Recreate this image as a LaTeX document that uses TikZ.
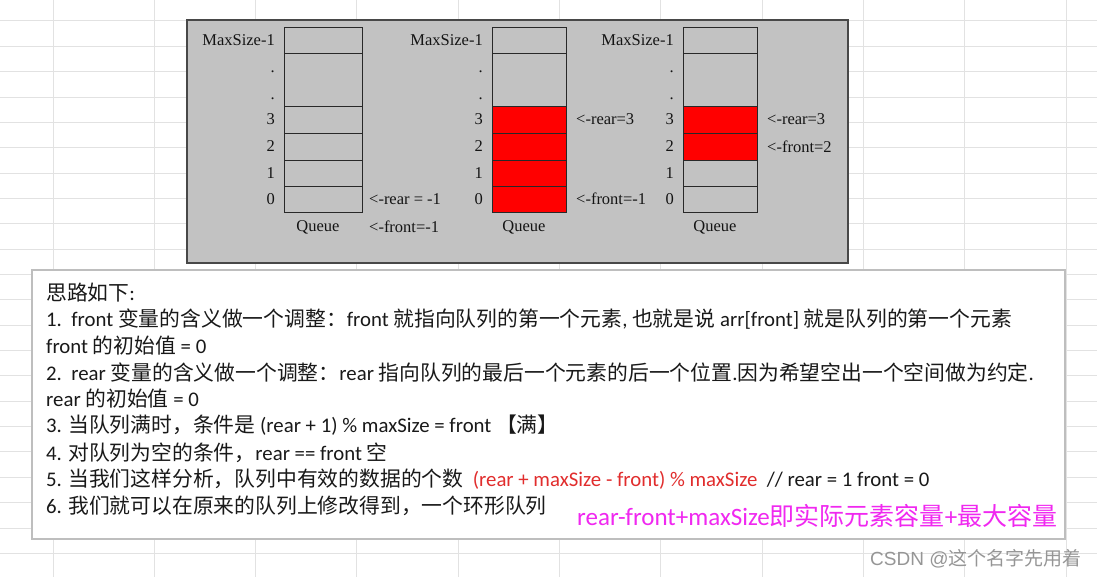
\documentclass[tikz,border=0pt]{standalone}
\usepackage{fontspec}
\usetikzlibrary{positioning}
\setmainfont{Liberation Serif}
\newfontfamily\latfont{Carlito}
\newfontfamily\cjkfont{Noto Sans CJK SC}
\newfontfamily\markfont{Liberation Sans}

% Chinese characters switch to the CJK font by themselves
\XeTeXinterchartokenstate=1
\chardef\cjkclass=21
\newcount\cjkcode
\def\setcjkrange#1#2{\cjkcode=#1\relax
  \loop\XeTeXcharclass\cjkcode=\cjkclass
  \ifnum\cjkcode<#2\advance\cjkcode by 1\repeat}
\setcjkrange{"3000}{"303F}
\setcjkrange{"4E00}{"9FFF}
\setcjkrange{"FF00}{"FFEF}
\XeTeXinterchartoks 0 \cjkclass={\cjkfont}
\XeTeXinterchartoks 4095 \cjkclass={\cjkfont}
\XeTeXinterchartoks \cjkclass 0={\latfont}
\XeTeXinterchartoks \cjkclass 4095={\latfont}

\definecolor{gridgray}{RGB}{226,226,226}
\definecolor{panelgray}{RGB}{194,194,194}
\definecolor{panelline}{RGB}{72,72,72}
\definecolor{cellline}{RGB}{40,40,40}
\definecolor{qred}{RGB}{255,0,0}
\definecolor{formred}{RGB}{225,45,45}
\definecolor{summagenta}{RGB}{240,40,240}
\definecolor{notetext}{RGB}{25,25,25}
\definecolor{markgray}{RGB}{150,150,150}
\definecolor{boxline}{RGB}{190,190,190}

\begin{document}
\begin{tikzpicture}[x=1pt, y=-1pt,
  cell/.style={draw=cellline, line width=0.9pt, inner sep=0pt, outer sep=0pt, minimum width=#1},
  cell/.default=74pt,
  used/.style={fill=qred},
  idx/.style={inner sep=0pt, font=\fontsize{16.5}{18}\selectfont, text=black!92},
  note/.style={inner sep=0pt, anchor=base west, font=\fontsize{20.8}{24}\latfont, text=notetext}]
\useasboundingbox (0,0) rectangle (1097,577);
\fill[white] (0,0) rectangle (1097,577);
% sheet grid
\foreach \k in {0,...,21} \draw[gridgray, line width=1pt] (0,{21+25.35*\k}) -- (1097,{21+25.35*\k});
\foreach \k in {0,...,10} \draw[gridgray, line width=1pt] ({53+101.3*\k},0) -- ({53+101.3*\k},577);

% queue panel
\draw[panelline, fill=panelgray, line width=1.8pt] (187,20) rectangle (848,263);

% empty queue
\node[cell=78pt, minimum height=26pt] (qa0) at (323,199) {};
\node[cell=78pt, minimum height=26pt, above=0pt of qa0] (qa1) {};
\node[cell=78pt, minimum height=27pt, above=0pt of qa1] (qa2) {};
\node[cell=78pt, minimum height=27pt, above=0pt of qa2] (qa3) {};
\node[cell=78pt, minimum height=53pt, above=0pt of qa3] (qad) {};
\node[cell=78pt, minimum height=26pt, above=0pt of qad] (qat) {};
\node[idx, left=9pt of qat] (ma) {MaxSize-1};
\node[idx, anchor=base east] (da1) at ([xshift=-9pt, yshift=7pt]qad.west) {.};
\node[idx, anchor=base east] (da2) at ([xshift=-9pt, yshift=-20pt]qad.west) {.};
\node[idx, left=9pt of qa3] (na3) {3};
\node[idx, left=9pt of qa2] (na2) {2};
\node[idx, left=9pt of qa1] (na1) {1};
\node[idx, left=9pt of qa0] (na0) {0};
\node[idx, below=8pt of qa0, xshift=-5pt] (qaq) {Queue};
\node[idx, right=7pt of qa0] (ra) {<-rear = -1};
\node[idx, anchor=west] (fa) at (ra.west |- qaq) {<-front=-1};

% full queue
\node[cell, used, minimum height=26pt] (qb0) at (529,199) {};
\node[cell, used, minimum height=26pt, above=0pt of qb0] (qb1) {};
\node[cell, used, minimum height=27pt, above=0pt of qb1] (qb2) {};
\node[cell, used, minimum height=27pt, above=0pt of qb2] (qb3) {};
\node[cell, minimum height=53pt, above=0pt of qb3] (qbd) {};
\node[cell, minimum height=26pt, above=0pt of qbd] (qbt) {};
\node[idx, left=9pt of qbt] (mb) {MaxSize-1};
\node[idx, anchor=base east] (db1) at ([xshift=-9pt, yshift=7pt]qbd.west) {.};
\node[idx, anchor=base east] (db2) at ([xshift=-9pt, yshift=-20pt]qbd.west) {.};
\node[idx, left=9pt of qb3] (nb3) {3};
\node[idx, left=9pt of qb2] (nb2) {2};
\node[idx, left=9pt of qb1] (nb1) {1};
\node[idx, left=9pt of qb0] (nb0) {0};
\node[idx, below=8pt of qb0, xshift=-5pt] (qbq) {Queue};
\node[idx, right=10pt of qb3] (rb) {<-rear=3};
\node[idx, right=10pt of qb0] (fb) {<-front=-1};

% queue after taking out
\node[cell, minimum height=26pt] (qc0) at (720,199) {};
\node[cell, minimum height=26pt, above=0pt of qc0] (qc1) {};
\node[cell, used, minimum height=27pt, above=0pt of qc1] (qc2) {};
\node[cell, used, minimum height=27pt, above=0pt of qc2] (qc3) {};
\node[cell, minimum height=53pt, above=0pt of qc3] (qcd) {};
\node[cell, minimum height=26pt, above=0pt of qcd] (qct) {};
\node[idx, left=9pt of qct] (mc) {MaxSize-1};
\node[idx, anchor=base east] (dc1) at ([xshift=-9pt, yshift=7pt]qcd.west) {.};
\node[idx, anchor=base east] (dc2) at ([xshift=-9pt, yshift=-20pt]qcd.west) {.};
\node[idx, left=9pt of qc3] (nc3) {3};
\node[idx, left=9pt of qc2] (nc2) {2};
\node[idx, left=9pt of qc1] (nc1) {1};
\node[idx, left=9pt of qc0] (nc0) {0};
\node[idx, below=8pt of qc0, xshift=-5pt] (qcq) {Queue};
\node[idx, right=10pt of qc3] (rc) {<-rear=3};
\node[idx, right=10pt of qc2] (fc) {<-front=2};

% notes
\draw[boxline, fill=white, line width=1.2pt] (32,270) rectangle (1065,539);
\node[note] (l1) at (46,300) {思路如下:};
\node[note] (l2) at (46,326) {1.\ \ front 变量的含义做一个调整：front 就指向队列的第一个元素, 也就是说 arr[front] 就是队列的第一个元素};
\node[note] (l3) at (46,353) {front 的初始值 = 0};
\node[note] (l4) at (46,380) {2.\ \ rear 变量的含义做一个调整：rear 指向队列的最后一个元素的后一个位置.因为希望空出一个空间做为约定.};
\node[note] (l5) at (46,406) {rear 的初始值 = 0};
\node[note] (l6) at (46,432) {3. 当队列满时，条件是 (rear + 1) \% maxSize = front 【满】};
\node[note] (l7) at (46,460) {4. 对队列为空的条件，rear == front 空};
\node[note] (l8) at (46,486) {5. 当我们这样分析，队列中有效的数据的个数\ \ \textcolor{formred}{(rear + maxSize - front) \% maxSize}\ \ // rear = 1 front = 0};
\node[note] (l9) at (46,513) {6. 我们就可以在原来的队列上修改得到，一个环形队列};
\node[note, font=\fontsize{25}{28}\latfont, text=summagenta] (sum) at (577,525) {rear-front+maxSize即实际元素容量+最大容量};

% watermark
\node[inner sep=0pt, anchor=base west, font=\fontsize{19}{21}\markfont, text=markgray] (mark) at (870,565) {CSDN @这个名字先用着};
\end{tikzpicture}
\end{document}
